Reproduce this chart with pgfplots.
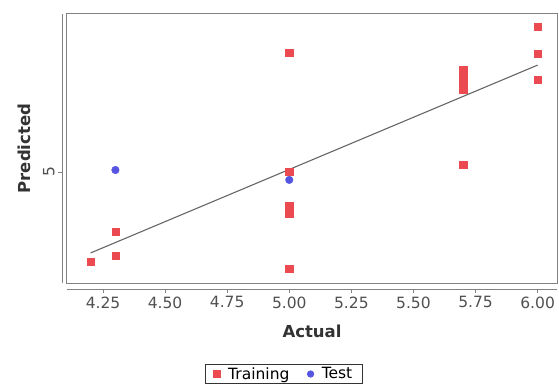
\documentclass[border=0pt]{standalone}
\usepackage{pgfplots}
\pgfplotsset{compat=1.18}
\usepackage{fontspec}
\setmainfont{DejaVu Sans}
\definecolor{trainred}{RGB}{235,75,80}
\definecolor{testblue}{RGB}{85,85,225}
\definecolor{framegray}{RGB}{130,130,130}
\definecolor{ticktext}{RGB}{80,80,80}
\begin{document}
\begin{tikzpicture}
\begin{axis}[
  scale only axis,
  width=490bp, height=269bp,
  xmin=4.105, xmax=6.078,
  ymin=4.383, ymax=5.878,
  axis lines*=left,
  axis x line shift=6bp,
  axis y line shift=5bp,
  axis line style={framegray, line width=0.9bp},
  every tick/.style={framegray, line width=0.6bp},
  tick align=outside,
  major tick length=4bp,
  xtick={4.25,4.5,4.75,5,5.25,5.5,5.75,6},
  ytick={5},
  /pgf/number format/assume math mode=true,
  xticklabel style={/pgf/number format/.cd, fixed, fixed zerofill, precision=2},
  ticklabel style={font=\fontsize{15.5bp}{18bp}\selectfont, text=ticktext},
  yticklabel style={rotate=90, anchor=south},
  xlabel={\textbf{Actual}},
  ylabel={\textbf{Predicted}},
  label style={font=\fontsize{16.5bp}{19bp}\selectfont, text=black!80},
  xlabel style={yshift=-10bp},
  ylabel style={yshift=5bp},
  legend columns=2,
  legend style={at={(axis description cs:0.443,-0.301)}, anchor=north,
    draw=black!80, line width=0.8bp, font=\fontsize{15.5bp}{18bp}\selectfont,
    inner xsep=8bp, inner ysep=1bp, /tikz/every even column/.append style={column sep=16bp}},
  legend image post style={mark size=3.2bp},
  legend cell align=left,
  clip=false,
]
\draw[framegray, line width=1bp] (axis description cs:0,0) rectangle (axis description cs:1,1);
\addplot[only marks, mark=square*, mark size=3.6bp, mark options={draw=trainred, fill=trainred}] coordinates {
  (4.2,4.500) (4.3,4.667) (4.3,4.533)
  (5.0,5.661) (5.0,5.000) (5.0,4.811) (5.0,4.767) (5.0,4.461)
  (5.7,5.567) (5.7,5.528) (5.7,5.494) (5.7,5.456) (5.7,5.039)
  (6.0,5.806) (6.0,5.656) (6.0,5.511)
};
\addlegendentry{\hspace*{6bp}Training}
\addplot[only marks, mark=*, mark size=3.8bp, mark options={draw=testblue, fill=testblue}] coordinates {
  (4.3,5.011) (5.0,4.956)
};
\addlegendentry{\hspace*{6bp}Test}
\addplot[black!60, line width=1.1bp, forget plot] coordinates {(4.2,4.550) (6.0,5.594)};
\end{axis}
\pgfresetboundingbox
\path[use as bounding box] ([xshift=-67bp,yshift=-102bp]current axis.south west) rectangle ([xshift=2bp,yshift=14bp]current axis.north east);
\end{tikzpicture}
\end{document}
